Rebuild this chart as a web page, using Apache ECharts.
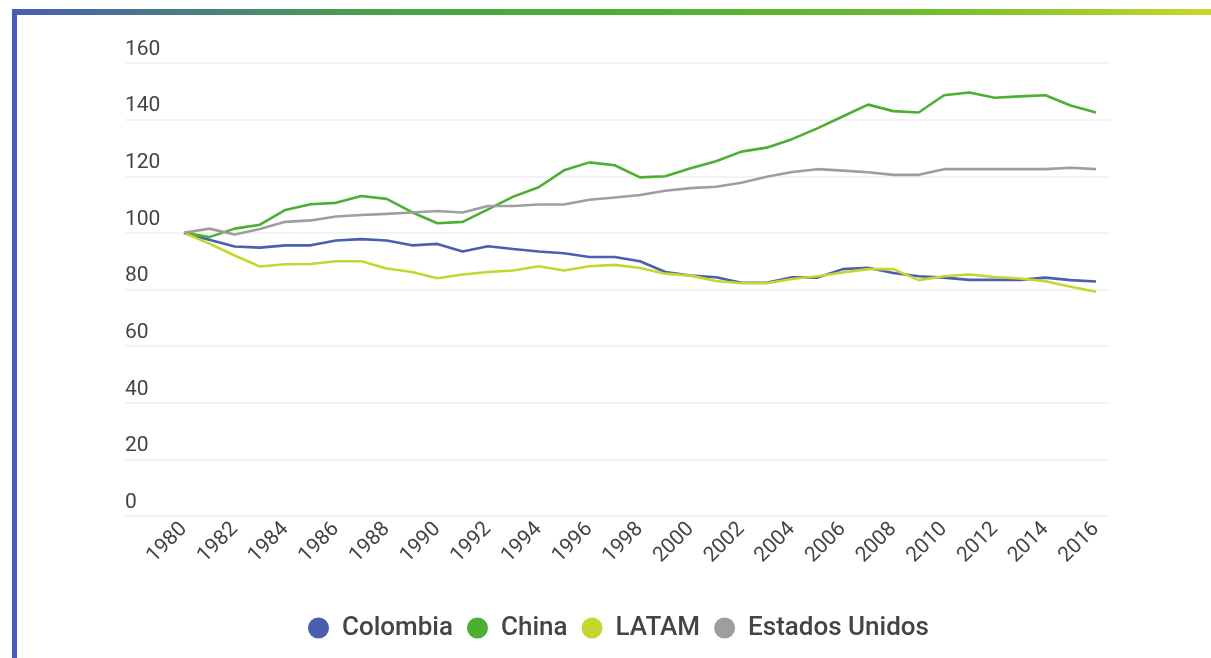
<!DOCTYPE html>
<html>
<head>
<meta charset="utf-8">
<script src="https://cdn.jsdelivr.net/npm/echarts@6/dist/echarts.min.js"></script>
<style>
html,body{margin:0;padding:0;background:#fff;}
#c{width:1211px;height:658px;}
</style>
</head>
<body>
<div id="c"></div>
<script>
const years = ['1980','1981','1982','1983','1984','1985','1986','1987','1988','1989','1990','1991','1992','1993','1994','1995','1996','1997','1998','1999','2000','2001','2002','2003','2004','2005','2006','2007','2008','2009','2010','2011','2012','2013','2014','2015','2016'];
const colombia = [100,97.6,95.2,94.8,95.6,95.6,97.3,97.8,97.3,95.6,96.1,93.4,95.3,94.3,93.4,92.8,91.5,91.5,90.0,86.2,84.9,84.3,82.4,82.4,84.3,84.2,87.2,87.7,85.8,84.7,84.2,83.4,83.4,83.4,84.2,83.3,82.8];
const china = [100,98.5,101.5,102.9,108.1,110.1,110.6,113.0,112.0,107.3,103.4,103.9,108.3,112.8,116.1,122.1,124.9,123.9,119.6,120.0,122.8,125.3,128.7,130.1,133.1,136.9,141.1,145.3,143.0,142.5,148.6,149.6,147.7,148.2,148.6,145.0,142.5];
const latam = [100,96.2,92.0,88.1,88.9,89.0,90.0,90.0,87.4,86.2,84.0,85.3,86.2,86.7,88.2,86.7,88.2,88.7,87.6,85.6,84.9,83.0,82.2,82.2,83.7,84.7,86.0,87.2,87.2,83.3,84.7,85.3,84.4,83.9,82.9,81.0,79.2];
const usa = [100,101.5,99.4,101.4,103.9,104.4,105.8,106.3,106.7,107.2,107.7,107.2,109.5,109.5,110.0,110.0,111.7,112.5,113.4,114.9,115.8,116.3,117.7,119.8,121.5,122.5,122.0,121.4,120.5,120.5,122.5,122.5,122.5,122.5,122.5,123.0,122.5];
const seriesNames = ['Colombia','China','LATAM','Estados Unidos'];
const colors = ['#4a5fb0','#4caf32','#c6d62e','#9e9e9e'];

const chart = echarts.init(document.getElementById('c'));
const font = 'Roboto, "Noto Sans", sans-serif';
const lineSeries = [colombia, china, latam, usa].map((d, i) => ({
  name: seriesNames[i],
  type: 'line',
  xAxisIndex: 0,
  yAxisIndex: 0,
  data: d,
  showSymbol: false,
  symbol: 'circle',
  lineStyle: { width: 2.6, color: colors[i] },
  itemStyle: { color: colors[i] },
  emphasis: { disabled: true },
  z: 3
}));

chart.setOption({
  animation: false,
  backgroundColor: '#fff',
  textStyle: { fontFamily: font },
  graphic: [
    {
      type: 'rect',
      shape: { x: 12, y: 9, width: 1199, height: 6 },
      style: {
        fill: new echarts.graphic.LinearGradient(0, 0, 1, 0, [
          { offset: 0, color: '#4a5cb6' },
          { offset: 0.3, color: '#4aa04a' },
          { offset: 0.5, color: '#4caf34' },
          { offset: 0.75, color: '#6cba2e' },
          { offset: 1, color: '#c8d82a' }
        ])
      },
      silent: true
    },
    {
      type: 'rect',
      shape: { x: 12, y: 9, width: 5, height: 649 },
      style: { fill: '#4a5cb6' },
      silent: true
    }
  ],
  grid: [
    { left: 184, right: 115, top: 63, bottom: 142, containLabel: false },
    { left: 125, right: 101, top: 63, bottom: 142, containLabel: false }
  ],
  xAxis: [
    {
      type: 'category',
      gridIndex: 0,
      data: years,
      boundaryGap: false,
      axisLine: { show: false },
      axisTick: { show: false },
      splitLine: { show: false },
      axisLabel: {
        interval: 1,
        rotate: 45,
        margin: 10,
        fontSize: 21,
        color: '#444',
        fontFamily: font
      }
    },
    { type: 'value', gridIndex: 1, min: 0, max: 1, show: false }
  ],
  yAxis: [
    { type: 'value', gridIndex: 0, min: 0, max: 160, interval: 20, show: false, splitLine: { show: false } },
    {
      type: 'value', gridIndex: 1, min: 0, max: 160, interval: 20,
      axisLine: { show: false },
      axisTick: { show: false },
      splitLine: { show: true, lineStyle: { color: '#efefef', width: 1.5 } },
      axisLabel: {
        align: 'left',
        verticalAlign: 'bottom',
        margin: 0,
        padding: [0, 0, 3, 0],
        fontSize: 21,
        color: '#444',
        fontFamily: font
      }
    }
  ],
  legend: {
    data: seriesNames,
    left: 303,
    top: 610,
    icon: 'circle',
    itemWidth: 21,
    itemHeight: 21,
    itemGap: 14,
    textStyle: { fontSize: 26, color: '#444', fontWeight: 500, fontFamily: font, padding: [0, 0, 0, 8] },
    selectedMode: false
  },
  series: lineSeries
});
</script>
</body>
</html>
